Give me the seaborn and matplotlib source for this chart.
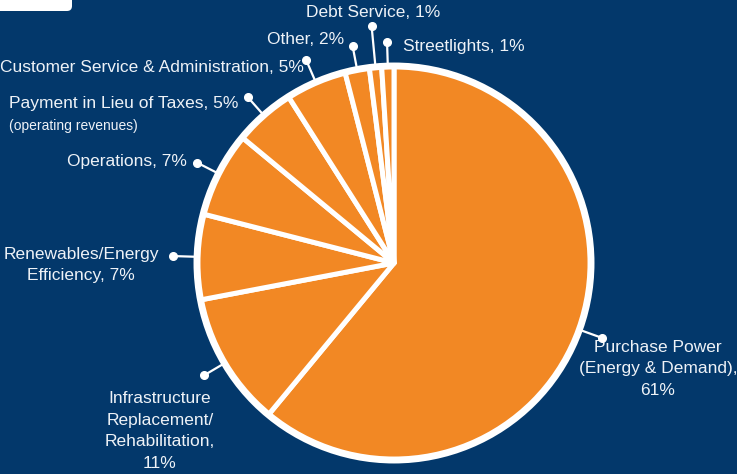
import numpy as np
import matplotlib
matplotlib.use("Agg")
import matplotlib.pyplot as plt
import seaborn as sns
from matplotlib.patches import Circle, FancyBboxPatch

# ---- data ----
categories = [
    "Purchase Power\n(Energy & Demand),\n61%",
    "Infrastructure\nReplacement/\nRehabilitation,\n11%",
    "Renewables/Energy\nEfficiency, 7%",
    "Operations, 7%",
    "Payment in Lieu of Taxes, 5%",
    "Customer Service & Administration, 5%",
    "Other, 2%",
    "Debt Service, 1%",
    "Streetlights, 1%",
]
values = [61, 11, 7, 7, 5, 5, 2, 1, 1]
sub_note = "(operating revenues)"

BG = "#03386B"
ORANGE = "#F28824"
TXT = "#EEF2F7"

sns.set_theme(style="white")
plt.rcParams["font.family"] = ["Liberation Sans", "DejaVu Sans"]

W, H = 737, 474
fig = plt.figure(figsize=(W / 100, H / 100), dpi=100, facecolor=BG)
ax = fig.add_axes([0, 0, 1, 1])
ax.set_facecolor(BG)

cx, cy = 394, H - 263
R = 197
palette = sns.color_palette([ORANGE] * len(values))
wedges, _ = ax.pie(values, colors=palette, startangle=90, counterclock=False,
                   center=(cx, cy), radius=R,
                   wedgeprops=dict(edgecolor="white", linewidth=3.6, joinstyle="round"))
ax.add_patch(Circle((cx, cy), R, fill=False, edgecolor="white", linewidth=5.0, zorder=5))

ax.set_xlim(0, W)
ax.set_ylim(0, H)
ax.set_aspect("equal")
ax.axis("off")

# leader lines from wedge mid-angles
fs = 12.5
for i, w in enumerate(wedges):
    mid = np.deg2rad((w.theta1 + w.theta2) / 2)
    r_end = 238 if i == 7 else 221
    x0, y0 = cx + 200 * np.cos(mid), cy + 200 * np.sin(mid)
    x1, y1 = cx + r_end * np.cos(mid), cy + r_end * np.sin(mid)
    ax.plot([x0, x1], [y0, y1], color="white", lw=1.6, solid_capstyle="round", zorder=6)
    ax.plot([x1], [y1], "o", color="white", ms=5.5, zorder=7)

# label placements (pixel coordinates from top)
place = [
    (658, 369, "center"),
    (160, 431, "center"),
    (81, 265, "center"),
    (187, 161, "right"),
    (9, 103, "left"),
    (304, 67, "right"),
    (344, 39, "right"),
    (373, 12, "center"),
    (403, 46, "left"),
]
for lab, (x, y, ha) in zip(categories, place):
    ax.text(x, H - y, lab, ha=ha, va="center", color=TXT, fontsize=fs,
            linespacing=1.55, multialignment="center")
ax.text(9, H - 126, sub_note, ha="left", va="center", color=TXT, fontsize=fs * 0.8)

# top-left tab
ax.add_patch(FancyBboxPatch((-10, H - 11), 82, 22,
                            boxstyle="round,pad=0,rounding_size=5",
                            facecolor="white", edgecolor="none", zorder=8))

fig.savefig("out.png", dpi=100, facecolor=BG)
